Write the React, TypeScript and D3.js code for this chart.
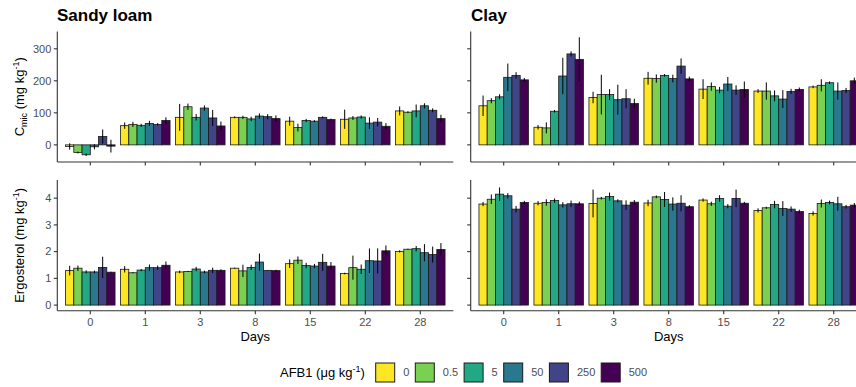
import React from 'react';
import * as d3 from 'd3';

// Sampling days and AFB1 doses
const days = ['0', '1', '3', '8', '15', '22', '28'];
const doses = ['0', '0.5', '5', '50', '250', '500'];
const doseColors = ['#FDE725', '#7AD151', '#22A884', '#2A788E', '#414487', '#440154'];

// Microbial carbon (mg kg-1): rows = day, columns = dose
const cmicSandyMean = [
  [-5, -24, -31, -6, 26, -4],
  [60, 64, 61, 67, 64, 76],
  [86, 119, 86, 115, 84, 59],
  [86, 86, 81, 90, 88, 82],
  [74, 54, 76, 74, 86, 79],
  [80, 84, 87, 68, 71, 58],
  [106, 102, 106, 122, 108, 82],
];
const cmicSandyErr = [
  [10, 3, 4, 8, 22, 20],
  [10, 8, 5, 8, 4, 10],
  [42, 10, 10, 8, 25, 14],
  [3, 5, 7, 8, 8, 10],
  [14, 12, 5, 3, 3, 3],
  [30, 6, 5, 18, 13, 10],
  [14, 3, 20, 8, 6, 12],
];
const cmicClayMean = [
  [122, 138, 150, 211, 217, 203],
  [55, 53, 105, 215, 284, 267],
  [148, 157, 157, 141, 144, 129],
  [208, 207, 217, 207, 246, 206],
  [174, 182, 171, 190, 171, 173],
  [168, 168, 153, 143, 167, 173],
  [181, 186, 194, 168, 170, 200],
];
const cmicClayErr = [
  [32, 8, 8, 43, 10, 6],
  [7, 17, 4, 57, 8, 69],
  [18, 62, 17, 47, 30, 15],
  [20, 13, 4, 12, 24, 7],
  [31, 13, 10, 22, 15, 25],
  [6, 27, 17, 28, 8, 6],
  [4, 19, 4, 27, 8, 10],
];

// Ergosterol (mg kg-1): rows = day, columns = dose
const ergoSandyMean = [
  [1.29, 1.38, 1.24, 1.24, 1.41, 1.23],
  [1.34, 1.21, 1.31, 1.4, 1.4, 1.49],
  [1.24, 1.26, 1.35, 1.24, 1.3, 1.3],
  [1.38, 1.28, 1.41, 1.61, 1.3, 1.29],
  [1.55, 1.68, 1.48, 1.46, 1.6, 1.46],
  [1.18, 1.4, 1.34, 1.66, 1.65, 2.03],
  [2.01, 2.09, 2.11, 1.96, 1.89, 2.08],
];
const ergoSandyErr = [
  [0.18, 0.1, 0.06, 0.05, 0.4, 0.02],
  [0.12, 0.02, 0.04, 0.12, 0.08, 0.14],
  [0.05, 0.02, 0.08, 0.05, 0.1, 0.04],
  [0.02, 0.23, 0.1, 0.32, 0.01, 0.03],
  [0.16, 0.14, 0.1, 0.08, 0.32, 0.15],
  [0.03, 0.45, 0.18, 0.46, 0.47, 0.2],
  [0.04, 0.02, 0.1, 0.32, 0.3, 0.24],
];
const ergoClayMean = [
  [3.78, 3.96, 4.15, 4.09, 3.59, 3.84],
  [3.81, 3.84, 3.91, 3.75, 3.79, 3.79],
  [3.8, 4.0, 4.06, 3.9, 3.74, 3.85],
  [3.82, 4.05, 3.95, 3.78, 3.81, 3.68],
  [3.93, 3.79, 3.99, 3.7, 3.99, 3.81],
  [3.54, 3.64, 3.76, 3.61, 3.59, 3.5],
  [3.43, 3.8, 3.84, 3.79, 3.68, 3.74],
];
const ergoClayErr = [
  [0.08, 0.18, 0.25, 0.1, 0.12, 0.06],
  [0.08, 0.12, 0.08, 0.1, 0.12, 0.08],
  [0.52, 0.05, 0.15, 0.06, 0.18, 0.08],
  [0.12, 0.05, 0.28, 0.25, 0.3, 0.06],
  [0.06, 0.08, 0.12, 0.08, 0.33, 0.05],
  [0.08, 0.04, 0.14, 0.28, 0.1, 0.07],
  [0.08, 0.15, 0.07, 0.26, 0.07, 0.08],
];

const cmicTicks = [0, 100, 200, 300];
const ergoTicks = [0, 1, 2, 3, 4];

const FONT = '"Liberation Sans", Arial, sans-serif';
const AXIS = '#333333';
const TICKTEXT = '#4D4D4D';

const W = 856;
const H = 387;
const panelW = 396;
const leftX = [57.3, 470.7];

const yCmic = d3.scaleLinear().domain([-53.5, 354]).range([162, 31.5]);
const yErgo = d3.scaleLinear().domain([-0.21, 4.68]).range([310.7, 180]);

type PanelProps = {
  x0: number;
  y: d3.ScaleLinear<number, number>;
  mean: number[][];
  err: number[][];
  ticks: number[];
  showYLabels: boolean;
  showXLabels: boolean;
};

function Panel({ x0, y, mean, err, ticks, showYLabels, showXLabels }: PanelProps) {
  const step = panelW / 7.2;
  const x = d3.scalePoint<string>().domain(days).range([x0 + 0.6 * step, x0 + 6.6 * step]);
  const groupW = 0.9 * step;
  const inner = d3.scaleBand<string>().domain(doses).range([-groupW / 2, groupW / 2]).paddingInner(0);
  const [yBottom, yTop] = y.range();
  const zero = y(0);

  return (
    <g>
      {days.map((d, i) =>
        doses.map((c, j) => {
          const v = mean[i][j];
          const bx = (x(d) as number) + (inner(c) as number);
          const top = Math.min(y(v), zero);
          const h = Math.abs(y(v) - zero);
          return (
            <rect
              key={`b-${d}-${c}`}
              x={bx}
              y={top}
              width={inner.bandwidth()}
              height={h}
              fill={doseColors[j]}
              stroke="#1a1a1a"
              strokeWidth={0.8}
            />
          );
        })
      )}
      {days.map((d, i) =>
        doses.map((c, j) => {
          const v = mean[i][j];
          const e = err[i][j];
          const cx = (x(d) as number) + (inner(c) as number) + inner.bandwidth() / 2;
          return (
            <line
              key={`e-${d}-${c}`}
              x1={cx}
              x2={cx}
              y1={y(v - e)}
              y2={y(v + e)}
              stroke="#000"
              strokeWidth={1}
            />
          );
        })
      )}
      {/* axis lines */}
      <line x1={x0} x2={x0} y1={yTop} y2={yBottom} stroke={AXIS} strokeWidth={1.1} />
      <line x1={x0} x2={x0 + panelW} y1={yBottom} y2={yBottom} stroke={AXIS} strokeWidth={1.1} />
      {ticks.map((t) => (
        <g key={`yt-${t}`}>
          <line x1={x0 - 3.5} x2={x0} y1={y(t)} y2={y(t)} stroke={AXIS} strokeWidth={1.1} />
          {showYLabels && (
            <text
              x={x0 - 6}
              y={y(t)}
              dy="0.35em"
              textAnchor="end"
              fontSize={11}
              fill={TICKTEXT}
              fontFamily={FONT}
            >
              {t}
            </text>
          )}
        </g>
      ))}
      {days.map((d) => (
        <g key={`xt-${d}`}>
          <line x1={x(d)} x2={x(d)} y1={yBottom} y2={yBottom + 3.5} stroke={AXIS} strokeWidth={1.1} />
          {showXLabels && (
            <text
              x={x(d)}
              y={yBottom + 11}
              dy="0.35em"
              textAnchor="middle"
              fontSize={11}
              fill={TICKTEXT}
              fontFamily={FONT}
            >
              {d}
            </text>
          )}
        </g>
      ))}
      {showXLabels && (
        <text
          x={x0 + panelW / 2}
          y={yBottom + 26}
          dy="0.35em"
          textAnchor="middle"
          fontSize={13}
          fill="#000"
          fontFamily={FONT}
        >
          Days
        </text>
      )}
    </g>
  );
}

function Legend() {
  const keySize = 19;
  const charW = (s: string) => s.split('').reduce((a, ch) => a + (ch === '.' ? 3.1 : 6.1), 0);
  let cx = 375.7;
  const items = doses.map((d, i) => {
    const item = { d, i, kx: cx, lx: cx + keySize + 8.5 };
    cx = item.lx + charW(d) + 6;
    return item;
  });
  const cy = 372.5;
  return (
    <g fontFamily={FONT}>
      <text x={280} y={cy} dy="0.35em" fontSize={13} fill="#000">
        AFB1 (μg kg
        <tspan fontSize={9} dy="-5">-1</tspan>
        <tspan dy="5">)</tspan>
      </text>
      {items.map((it) => (
        <g key={it.d}>
          <rect
            x={it.kx}
            y={cy - keySize / 2}
            width={keySize}
            height={keySize}
            fill={doseColors[it.i]}
            stroke="#1a1a1a"
            strokeWidth={1}
          />
          <text x={it.lx} y={cy} dy="0.35em" fontSize={11} fill={TICKTEXT}>
            {it.d}
          </text>
        </g>
      ))}
    </g>
  );
}

export default function App() {
  return (
    <div style={{ position: 'absolute', left: 0, top: 0, width: W, height: H, overflow: 'hidden', background: '#fff' }}>
      <svg width={W} height={H} style={{ display: 'block' }}>
        <rect width={W} height={H} fill="#fff" />
        <text x={57} y={21} fontSize={17} fontWeight="bold" fontFamily={FONT} fill="#000">
          Sandy loam
        </text>
        <text x={471} y={21} fontSize={17} fontWeight="bold" fontFamily={FONT} fill="#000">
          Clay
        </text>

        <Panel x0={leftX[0]} y={yCmic} mean={cmicSandyMean} err={cmicSandyErr} ticks={cmicTicks} showYLabels showXLabels={false} />
        <Panel x0={leftX[1]} y={yCmic} mean={cmicClayMean} err={cmicClayErr} ticks={cmicTicks} showYLabels={false} showXLabels={false} />
        <Panel x0={leftX[0]} y={yErgo} mean={ergoSandyMean} err={ergoSandyErr} ticks={ergoTicks} showYLabels showXLabels />
        <Panel x0={leftX[1]} y={yErgo} mean={ergoClayMean} err={ergoClayErr} ticks={ergoTicks} showYLabels={false} showXLabels />

        {/* y-axis titles */}
        <text
          transform={`translate(24, ${(31.5 + 162) / 2}) rotate(-90)`}
          textAnchor="middle"
          fontSize={13}
          fontFamily={FONT}
          fill="#000"
        >
          C<tspan fontSize={9} dy="3">mic</tspan>
          <tspan dy="-3"> (mg kg</tspan>
          <tspan fontSize={9} dy="-5">-1</tspan>
          <tspan dy="5">)</tspan>
        </text>
        <text
          transform={`translate(24, ${(180 + 310.7) / 2}) rotate(-90)`}
          textAnchor="middle"
          fontSize={13}
          fontFamily={FONT}
          fill="#000"
        >
          Ergosterol (mg kg
          <tspan fontSize={9} dy="-5">-1</tspan>
          <tspan dy="5">)</tspan>
        </text>

        <Legend />
      </svg>
    </div>
  );
}
